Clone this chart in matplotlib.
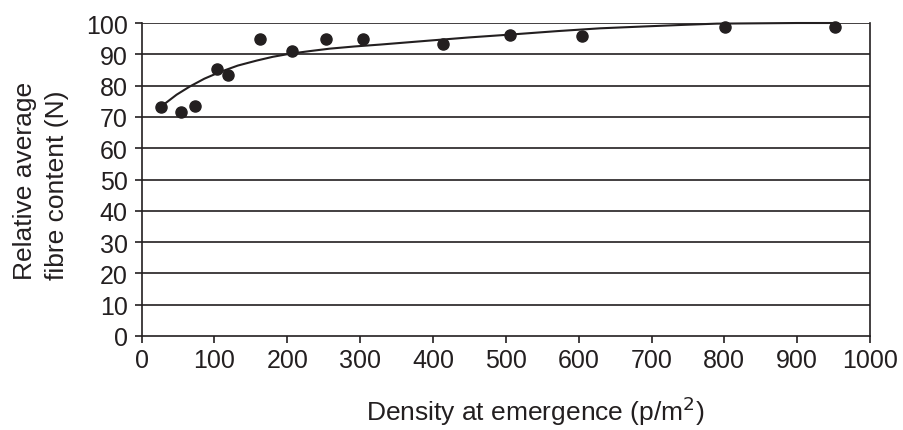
import matplotlib
matplotlib.use("Agg")
import matplotlib.pyplot as plt

plt.rcParams["font.family"] = ["Liberation Sans", "DejaVu Sans"]

INK = "#231f20"

# observed points
density = [26, 54, 73, 103, 119, 163, 206, 253, 304, 414, 506, 604, 801, 952]
fibre = [73.3, 71.7, 73.4, 85.4, 83.4, 94.8, 90.9, 94.8, 95.0, 93.2, 96.2, 95.9, 98.8, 98.8]

# fitted trend line
trend_x = [30, 48, 66, 86, 107, 132, 158, 180, 204, 230, 258, 292, 327, 396, 450, 506, 570, 629, 690, 743, 790, 900, 950]
trend_y = [73.9, 77.1, 79.7, 82.2, 84.3, 86.4, 88.0, 89.2, 90.2, 91.0, 91.8, 92.5, 93.1, 94.4, 95.4, 96.3, 97.4, 98.3, 98.9, 99.4, 99.8, 100, 100]

x_ticks = list(range(0, 1001, 100))
y_ticks = list(range(0, 101, 10))

fig = plt.figure(figsize=(9.04, 4.31), dpi=100)
ax = fig.add_axes([0.1567, 0.2181, 0.8057, 0.7262])

for y in y_ticks[1:]:
    ax.axhline(y, color=INK, lw=1.2, zorder=1)

ax.plot(trend_x, trend_y, color=INK, lw=1.5, zorder=2, clip_on=False)
ax.plot(density, fibre, "o", color=INK, ms=8, zorder=3, clip_on=False)

ax.set_xlim(0, 1000)
ax.set_ylim(0, 100)
ax.set_xticks(x_ticks)
ax.set_yticks(y_ticks)

for side in ("left", "right", "bottom"):
    ax.spines[side].set_color(INK)
    ax.spines[side].set_linewidth(1.2)
ax.spines["top"].set_visible(False)

ax.tick_params(axis="both", direction="out", length=5, width=1.2, color=INK,
               labelcolor=INK, labelsize=18)
ax.tick_params(axis="y", pad=5)
ax.tick_params(axis="x", pad=4)

ax.set_xlabel("Density at emergence (p/m$^2$)", fontsize=19, color=INK)
ax.xaxis.set_label_coords(0.541, -0.185)
ax.set_ylabel("Relative average\nfibre content (N)", fontsize=19, color=INK,
              linespacing=1.4, multialignment="left")
ax.yaxis.set_label_coords(-0.10, 0.5)

fig.savefig("out.png", dpi=100)
